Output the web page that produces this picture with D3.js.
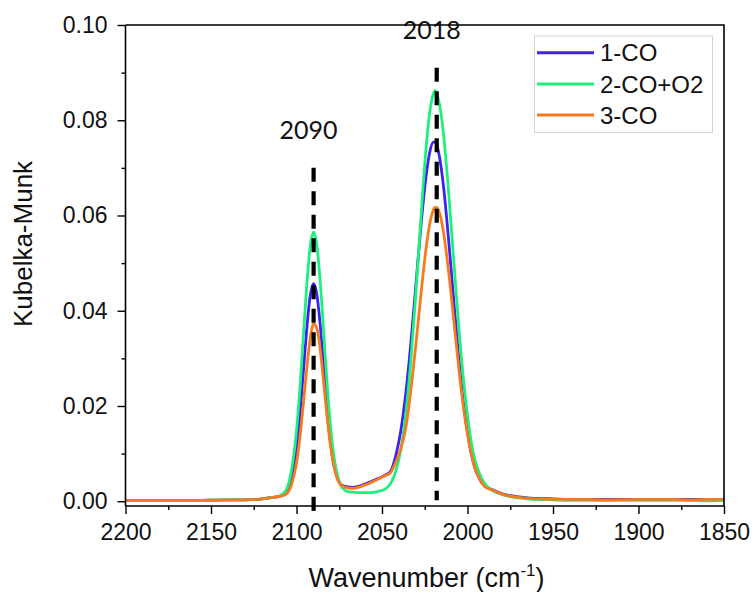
<!DOCTYPE html>
<html>
<head>
<meta charset="utf-8">
<script src="https://cdn.jsdelivr.net/npm/d3@7"></script>
<style>
  body { margin: 0; background: #fff; }
  svg { display: block; }
</style>
</head>
<body>
<svg id="chart" width="752" height="592"></svg>
<script>
// Wavenumber grid (cm-1) shared by the three spectra
const wavenumbers = [2200, 2180, 2160, 2140, 2130, 2120, 2114, 2110,
  2106, 2103, 2100, 2098, 2096, 2094, 2092, 2090, 2088, 2086,
  2084, 2082, 2080, 2078, 2076, 2074, 2072, 2070, 2067, 2064,
  2060, 2056, 2052, 2048, 2045, 2042, 2039, 2036, 2033, 2030,
  2027, 2024, 2022, 2020, 2019, 2018, 2016, 2014, 2011, 2008,
  2005, 2002, 1999, 1996, 1993, 1990, 1986, 1982, 1978, 1974,
  1970, 1965, 1960, 1950, 1940, 1930, 1920, 1900, 1880, 1870,
  1860, 1850];

// Kubelka-Munk intensity, 1-CO
const co1 = [0.0002, 0.0002, 0.0002, 0.0003, 0.0003, 0.0005, 0.0008, 0.0010,
  0.0019, 0.0046, 0.0111, 0.0182, 0.0272, 0.0362, 0.0431, 0.0457, 0.0432, 0.0365,
  0.0276, 0.0189, 0.0120, 0.0074, 0.0047, 0.0035, 0.0032, 0.0030, 0.0029, 0.0031,
  0.0036, 0.0042, 0.0048, 0.0055, 0.0063, 0.0095, 0.0148, 0.0229, 0.0337, 0.0462,
  0.0587, 0.0689, 0.0734, 0.0754, 0.0754, 0.0748, 0.0715, 0.0660, 0.0547, 0.0419,
  0.0297, 0.0196, 0.0123, 0.0074, 0.0047, 0.0032, 0.0025, 0.0019, 0.0014, 0.0011,
  0.0009, 0.0007, 0.0006, 0.0005, 0.0004, 0.0004, 0.0004, 0.0004, 0.0004, 0.0004,
  0.0004, 0.0004];

// Kubelka-Munk intensity, 2-CO+O2
const coO2 = [0.0002, 0.0002, 0.0002, 0.0003, 0.0003, 0.0005, 0.0008, 0.0011,
  0.0024, 0.0063, 0.0148, 0.0237, 0.0347, 0.0453, 0.0535, 0.0565, 0.0535, 0.0455,
  0.0349, 0.0241, 0.0153, 0.0091, 0.0054, 0.0033, 0.0024, 0.0020, 0.0019, 0.0018,
  0.0018, 0.0018, 0.0021, 0.0026, 0.0037, 0.0062, 0.0108, 0.0187, 0.0301, 0.0448,
  0.0607, 0.0751, 0.0819, 0.0855, 0.0862, 0.0856, 0.0826, 0.0770, 0.0647, 0.0503,
  0.0362, 0.0243, 0.0153, 0.0091, 0.0058, 0.0037, 0.0024, 0.0017, 0.0012, 0.0009,
  0.0007, 0.0005, 0.0004, 0.0003, 0.0002, 0.0002, 0.0002, 0.0002, 0.0002, 0.0002,
  0.0001, 0.0002];

// Kubelka-Munk intensity, 3-CO
const co3 = [0.0002, 0.0002, 0.0002, 0.0003, 0.0003, 0.0005, 0.0008, 0.0010,
  0.0015, 0.0034, 0.0080, 0.0134, 0.0204, 0.0279, 0.0341, 0.0373, 0.0362, 0.0315,
  0.0245, 0.0173, 0.0113, 0.0071, 0.0046, 0.0034, 0.0030, 0.0028, 0.0027, 0.0029,
  0.0034, 0.0040, 0.0047, 0.0054, 0.0060, 0.0082, 0.0110, 0.0156, 0.0237, 0.0336,
  0.0442, 0.0537, 0.0584, 0.0611, 0.0617, 0.0617, 0.0601, 0.0564, 0.0481, 0.0379,
  0.0276, 0.0187, 0.0120, 0.0074, 0.0047, 0.0031, 0.0024, 0.0018, 0.0013, 0.0010,
  0.0008, 0.0006, 0.0005, 0.0004, 0.0004, 0.0004, 0.0003, 0.0004, 0.0004, 0.0003,
  0.0004, 0.0004];

const seriesNames = ["1-CO", "2-CO+O2", "3-CO"];
const seriesValues = [co1, coO2, co3];
const seriesColors = ["#4020f2", "#1ef07e", "#f77a1c"];

const xTicks = [2200, 2150, 2100, 2050, 2000, 1950, 1900, 1850];
const xMinorTicks = [2175, 2125, 2075, 2025, 1975, 1925, 1875];
const yTicks = [0.00, 0.02, 0.04, 0.06, 0.08, 0.10];
const yMinorTicks = [0.01, 0.03, 0.05, 0.07, 0.09];

// Band positions marked with dashed guides
const bandWn = [2090, 2018];
const bandTop = [0.070, 0.091];
const bandBottom = [-0.0025, 0.0002];
const bandLabels = ["2090", "2018"];

(function draw() {
  const svg = d3.select("#chart");
  const pLeft = 125.5, pRight = 724, pTop = 25, pBottom = 506;

  const x = d3.scaleLinear().domain([2200, 1850]).range([pLeft, pRight]);
  const y = d3.scaleLinear().domain([-0.001, 0.10]).range([pBottom, pTop]);

  const tickFont = "'Liberation Sans', Arial, sans-serif";

  // Spectra
  const line = d3.line()
    .x(d => x(d[0]))
    .y(d => y(d[1]))
    .curve(d3.curveMonotoneX);

  seriesValues.forEach((vals, i) => {
    const pts = wavenumbers.map((w, j) => [w, vals[j]]);
    svg.append("path")
      .datum(pts)
      .attr("d", line)
      .attr("fill", "none")
      .attr("stroke", seriesColors[i])
      .attr("stroke-width", 2.8)
      .attr("stroke-linejoin", "round");
  });

  // Dashed band guides and their labels
  bandWn.forEach((w, i) => {
    svg.append("line")
      .attr("x1", x(w)).attr("x2", x(w))
      .attr("y1", y(bandTop[i])).attr("y2", y(bandBottom[i]))
      .attr("stroke", "#000")
      .attr("stroke-width", 4.2)
      .attr("stroke-dasharray", "14,9.5");
    svg.append("text")
      .attr("x", x(w) - 5)
      .attr("y", y(bandTop[i]) - 29)
      .attr("text-anchor", "middle")
      .style("font-family", "Lato, 'Open Sans', sans-serif")
      .style("font-size", "25px")
      .attr("fill", "#111")
      .text(bandLabels[i]);
  });

  // Axes
  const xAxis = svg.append("g")
    .attr("transform", `translate(0,${pBottom})`)
    .call(d3.axisBottom(x).tickValues(xTicks).tickSize(8).tickPadding(10)
      .tickFormat(d3.format("d")));
  svg.append("g")
    .attr("transform", `translate(0,${pBottom})`)
    .call(d3.axisBottom(x).tickValues(xMinorTicks).tickSize(4).tickFormat(""))
    .select(".domain").remove();

  const yAxis = svg.append("g")
    .attr("transform", `translate(${pLeft},0)`)
    .call(d3.axisLeft(y).tickValues(yTicks).tickSize(8).tickPadding(10)
      .tickFormat(d3.format(".2f")));
  svg.append("g")
    .attr("transform", `translate(${pLeft},0)`)
    .call(d3.axisLeft(y).tickValues(yMinorTicks).tickSize(4).tickFormat(""))
    .select(".domain").remove();

  svg.selectAll(".domain").attr("stroke", "#000").attr("stroke-width", 1.6);
  svg.selectAll(".tick line").attr("stroke", "#000").attr("stroke-width", 1.4);
  svg.selectAll(".tick text")
    .style("font-family", tickFont)
    .style("font-size", "23px")
    .attr("fill", "#111");
  xAxis.selectAll(".domain").attr("d", `M${pLeft},0H${pRight}`);
  yAxis.selectAll(".domain").attr("d", `M0,${pBottom}V${pTop}`);

  // Frame on top and right
  svg.append("path")
    .attr("d", `M${pLeft},${pTop}H${pRight}V${pBottom}`)
    .attr("fill", "none")
    .attr("stroke", "#000")
    .attr("stroke-width", 1.6);

  // Axis titles
  svg.append("text")
    .attr("transform", "translate(32,244) rotate(-90)")
    .attr("text-anchor", "middle")
    .style("font-family", tickFont)
    .style("font-size", "26px")
    .attr("fill", "#111")
    .text("Kubelka-Munk");

  const xt = svg.append("text")
    .attr("x", 426.5)
    .attr("y", 587)
    .attr("text-anchor", "middle")
    .style("font-family", tickFont)
    .style("font-size", "27px")
    .attr("fill", "#111");
  xt.append("tspan").text("Wavenumber (cm");
  xt.append("tspan").attr("dy", -11).style("font-size", "17px").text("-1");
  xt.append("tspan").attr("dy", 11).text(")");

  // Legend
  const legend = svg.append("g");
  legend.append("rect")
    .attr("x", 534.5).attr("y", 36)
    .attr("width", 178).attr("height", 96.5)
    .attr("fill", "#fff")
    .attr("stroke", "#d4d4d4")
    .attr("stroke-width", 1);
  seriesNames.forEach((name, i) => {
    const ly = 52.7 + i * 31.2;
    legend.append("line")
      .attr("x1", 537).attr("x2", 594)
      .attr("y1", ly).attr("y2", ly)
      .attr("stroke", seriesColors[i])
      .attr("stroke-width", 3);
    legend.append("text")
      .attr("x", 600).attr("y", ly)
      .attr("dy", "0.36em")
      .style("font-family", tickFont)
      .style("font-size", "24px")
      .attr("fill", "#111")
      .text(name);
  });
})();
</script>
</body>
</html>
